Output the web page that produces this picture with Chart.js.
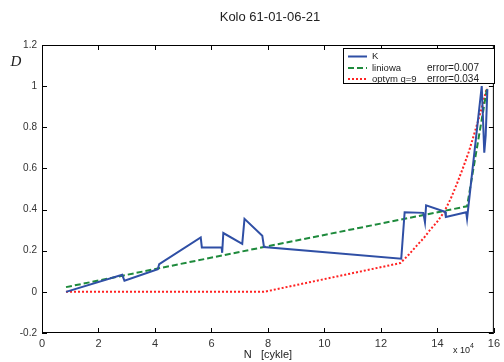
<!DOCTYPE html>
<html>
<head>
<meta charset="utf-8">
<script src="https://cdn.jsdelivr.net/npm/chart.js@4"></script>
<style>
html,body{margin:0;padding:0;background:#fff;}
#c{display:block;}
</style>
</head>
<body>
<canvas id="c" width="504" height="362"></canvas>
<script>
// ---- data ----
const titleText = "Kolo 61-01-06-21";
const xTickVals = [0, 20000, 40000, 60000, 80000, 100000, 120000, 140000, 160000];
const yTickVals = [-0.2, 0, 0.2, 0.4, 0.6, 0.8, 1, 1.2];

const kN = [8500, 28400, 29200, 41000, 41500, 56200, 56600, 63600, 63800, 64200, 70900, 71700, 78000, 78600, 127200, 128400, 135000, 135600, 136000, 142700, 143000, 150200, 150500, 155700, 156600, 157100, 157700];
const kD = [0, 0.083, 0.054, 0.11, 0.135, 0.265, 0.216, 0.216, 0.19, 0.286, 0.233, 0.355, 0.273, 0.218, 0.161, 0.387, 0.384, 0.338, 0.421, 0.389, 0.364, 0.387, 0.356, 1.0, 0.677, 0.76, 0.985];

const linN = [8500, 78600, 150500, 157700];
const linD = [0.023, 0.218, 0.416, 1.0];

const optN = [8500, 78600, 126900, 130000, 132900, 135200, 137400, 140000, 142400, 144700, 146900, 149000, 151100, 152700, 154300, 155900, 157500];
const optD = [0, 0, 0.140, 0.183, 0.228, 0.262, 0.301, 0.342, 0.389, 0.452, 0.525, 0.600, 0.680, 0.752, 0.826, 0.905, 0.991];

const legendLabels = ["K", "liniowa", "optym q=9"];
const legendErrors = ["", "error=0.007", "error=0.034"];

const toPts = (xs, ys) => xs.map((x, i) => ({x: x, y: ys[i]}));

const FONT = "'Liberation Sans', Arial, sans-serif";

const decor = {
  id: 'decor',
  afterDraw(chart) {
    const ctx = chart.ctx;
    const a = chart.chartArea;
    const xs = chart.scales.x, ys = chart.scales.y;
    ctx.save();
    // box
    ctx.strokeStyle = '#000';
    ctx.lineWidth = 1;
    ctx.strokeRect(a.left + 0.5, a.top + 0.5, a.right - a.left - 1, a.bottom - a.top - 1);
    // ticks inward
    const tl = 5;
    ctx.beginPath();
    xTickVals.forEach(v => {
      const px = Math.round(xs.getPixelForValue(v)) + 0.5;
      ctx.moveTo(px, a.bottom); ctx.lineTo(px, a.bottom - tl);
      ctx.moveTo(px, a.top); ctx.lineTo(px, a.top + tl);
    });
    yTickVals.forEach(v => {
      const py = Math.round(ys.getPixelForValue(v)) + 0.5;
      ctx.moveTo(a.left, py); ctx.lineTo(a.left + tl, py);
      ctx.moveTo(a.right, py); ctx.lineTo(a.right - tl, py);
    });
    ctx.stroke();
    // title
    ctx.fillStyle = '#222';
    ctx.font = "13px " + FONT;
    ctx.textAlign = 'center';
    ctx.textBaseline = 'middle';
    ctx.fillText(titleText, (a.left + a.right) / 2 + 2, 17);
    // x label
    ctx.font = "11px " + FONT;
    ctx.fillText("N   [cykle]", (a.left + a.right) / 2, 355);
    // exponent
    ctx.font = "9px " + FONT;
    ctx.textAlign = 'left';
    ctx.fillText("x 10", 453, 351);
    ctx.font = "7px " + FONT;
    ctx.fillText("4", 470, 346);
    // y label
    ctx.font = "italic 15px 'Liberation Serif', 'DejaVu Serif', serif";
    ctx.textAlign = 'center';
    ctx.fillText("D", 16, 62);
    // legend
    const lx = 343, ly = 48, lw = 151, lh = 35;
    ctx.fillStyle = '#fff';
    ctx.fillRect(lx, ly, lw, lh);
    ctx.strokeStyle = '#000';
    ctx.lineWidth = 1;
    ctx.strokeRect(lx + 0.5, ly + 0.5, lw, lh);
    const rows = [56.5, 68, 79];
    chart.data.datasets.forEach((ds, i) => {
      ctx.beginPath();
      ctx.strokeStyle = ds.borderColor;
      ctx.lineWidth = ds.borderWidth;
      ctx.setLineDash(ds.borderDash || []);
      ctx.moveTo(348, rows[i]); ctx.lineTo(367, rows[i]);
      ctx.stroke();
      ctx.setLineDash([]);
      ctx.fillStyle = '#222';
      ctx.textAlign = 'left';
      ctx.textBaseline = 'middle';
      ctx.font = "9.5px " + FONT;
      ctx.fillText(legendLabels[i], 372, rows[i]);
      ctx.font = "10px " + FONT;
      if (legendErrors[i]) ctx.fillText(legendErrors[i], 427, rows[i]);
    });
    ctx.restore();
  }
};

new Chart(document.getElementById('c'), {
  type: 'scatter',
  data: {
    datasets: [
      {label: legendLabels[0], data: toPts(kN, kD), showLine: true, borderColor: '#2f4fa5', borderWidth: 2, pointRadius: 0, tension: 0},
      {label: legendLabels[1], data: toPts(linN, linD), showLine: true, borderColor: '#1e8a3c', borderWidth: 2, borderDash: [6, 3], pointRadius: 0, tension: 0},
      {label: legendLabels[2], data: toPts(optN, optD), showLine: true, borderColor: '#ff2222', borderWidth: 2, borderDash: [2, 2], pointRadius: 0, tension: 0}
    ]
  },
  options: {
    responsive: false,
    animation: false,
    devicePixelRatio: 1,
    layout: {padding: {top: 45, right: 8, left: 0, bottom: 0}},
    plugins: {legend: {display: false}, title: {display: false}, tooltip: {enabled: false}},
    scales: {
      x: {
        type: 'linear', min: 0, max: 160000,
        afterFit: s => { s.height = 29; },
        afterBuildTicks: s => { s.ticks = xTickVals.map(v => ({value: v})); },
        grid: {display: false, drawTicks: false},
        border: {display: false},
        ticks: {padding: 4, color: '#333', font: {family: FONT, size: 11}, callback: v => String(v / 10000), maxRotation: 0, autoSkip: false}
      },
      y: {
        type: 'linear', min: -0.2, max: 1.2,
        afterFit: s => { s.width = 42; },
        afterBuildTicks: s => { s.ticks = yTickVals.map(v => ({value: v})); },
        grid: {display: false, drawTicks: false},
        border: {display: false},
        ticks: {padding: 5, color: '#333', font: {family: FONT, size: 10}, callback: v => String(Math.round(v * 10) / 10), autoSkip: false}
      }
    }
  },
  plugins: [decor]
});
</script>
</body>
</html>
